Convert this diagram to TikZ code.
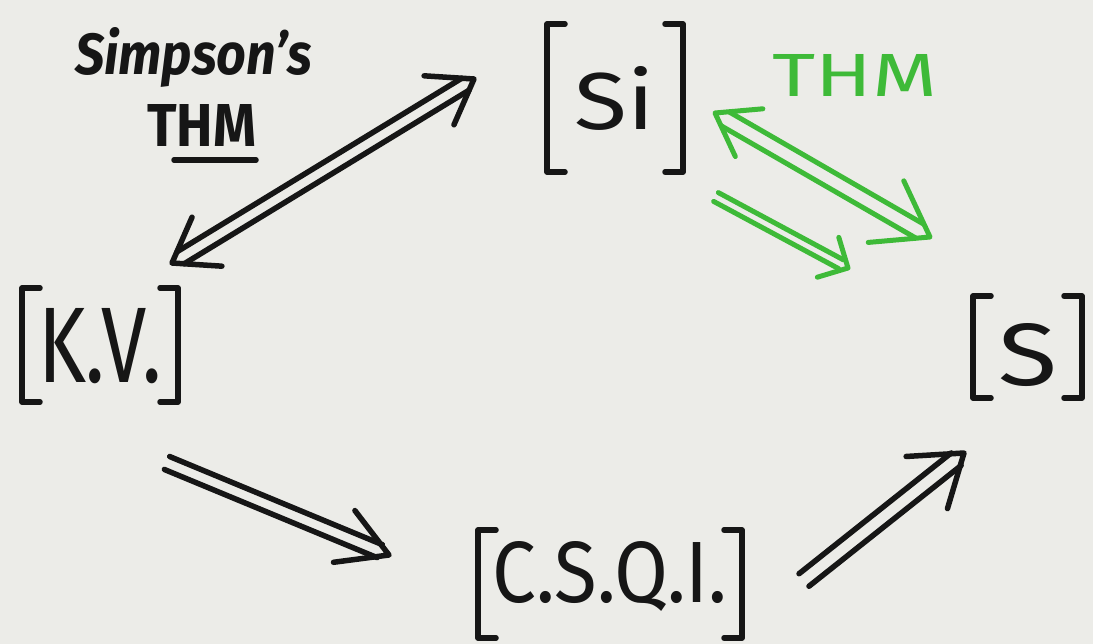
\documentclass[tikz,border=0pt]{standalone}
\usepackage{fontspec}
\setmainfont{Fira Sans}
\usepackage{graphicx}
\usetikzlibrary{calc}

\definecolor{paper}{RGB}{236,236,232}
\definecolor{ink}{RGB}{22,22,22}
\definecolor{marker}{RGB}{62,186,56}

% handwritten word squeezed to a given width and height (in pt)
\newcommand\hw[3]{\resizebox{#1pt}{#2pt}{#3}}

% square brackets drawn on the edges of a node
\newcommand\brackets[1]{%
  \draw[pen] ([xshift=18pt]#1.north west) -- (#1.north west) -- (#1.south west) -- ([xshift=18pt]#1.south west);
  \draw[pen] ([xshift=-18pt]#1.north east) -- (#1.north east) -- (#1.south east) -- ([xshift=-18pt]#1.south east);}

% the two strokes of an implication arrow:
% [style]{from}{to}{cut at from}{cut at to}{half gap}
\newcommand\rails[6][]{%
  \path ($(#2)!#4!(#3)$) coordinate (railA) ($(#3)!#5!(#2)$) coordinate (railB);
  \draw[pen,#1] ($(railA)!#6!90:(railB)$) -- ($(railB)!#6!-90:(railA)$);
  \draw[pen,#1] ($(railA)!#6!-90:(railB)$) -- ($(railB)!#6!90:(railA)$);}

% open arrow head: [style]{tip}{point behind}{arm length}{half angle}
\newcommand\head[5][]{%
  \draw[pen,#1] ($(#2)!#4!#5:(#3)$) -- (#2) -- ($(#2)!#4!-#5:(#3)$);}

\tikzset{
  pen/.style={draw=ink, line width=5.5pt, line cap=round, line join=round},
  greenpen/.style={draw=marker, line width=5pt},
  term/.style={rectangle, inner sep=0pt, outer sep=0pt, text=ink, text depth=0pt},
  note/.style={inner sep=0pt, outer sep=0pt, anchor=base west},
}

\begin{document}
\begin{tikzpicture}[x=1pt, y=-1pt]
\useasboundingbox (0,0) rectangle (1093,644);
\fill[paper] (0,0) rectangle (1093,644);

% the four bracketed classes
\node[term, minimum width=136pt, minimum height=148pt, text height=63pt] (si) at (615,98) {\hw{80}{63}{Si}};
\node[term, minimum width=156pt, minimum height=114pt, text height=74pt] (kv) at (100,345) {\hw{124}{74}{K.V.}};
\node[term, minimum width=109pt, minimum height=102pt, text height=62pt] (s) at (1027.5,347) {\raisebox{-7pt}{\hw{59}{62}{S}}};
\node[term, minimum width=264pt, minimum height=108pt, text height=61pt] (csqi) at (610,584) {\raisebox{12pt}{\hw{235}{61}{C.S.Q.I.}}};
\foreach \n in {si,kv,s,csqi} {\brackets{\n}}

% labels
\node[note, text=ink] (simpson) at (75,75) {\hw{237}{47}{\bfseries\itshape Simpson's}};
\node[note, text=ink] (thm) at (147,147) {\hw{109}{42}{\bfseries THM}};
\draw[pen] ([shift={(27pt,-13pt)}]thm.base west) -- ([shift={(0pt,-13pt)}]thm.base east);
\node[note, text=marker] (gthm) at (772,97) {\hw{165}{42}{THM}};

% arrow ends
\coordinate (e1a) at ($(kv.north east)+(-6,-25)$);
\coordinate (e1b) at ($(si.west)+(-73,-19)$);
\coordinate (e2a) at ($(kv.south east)+(-11,61)$);
\coordinate (e2b) at ($(csqi.west)+(-89,-29)$);
\coordinate (e3a) at ($(csqi.east)+(62,-4)$);
\coordinate (e3b) at ($(s.south west)+(-9,55)$);
\coordinate (g1a) at ($(si.east)+(32,15)$);
\coordinate (g1b) at ($(s.north west)+(-43,-59)$);
\coordinate (g2a) at ($(si.south east)+(33,25)$);
\coordinate (g2b) at ($(s.north west)+(-125,-28)$);

% Simpson's theorem: [K.V.] <=> [Si]
\rails{e1a}{e1b}{10pt}{10pt}{7pt}
\head{e1a}{e1b}{50pt}{35}
\head{e1b}{e1a}{50pt}{35}

% [K.V.] => [C.S.Q.I.]
\rails{e2a}{e2b}{0pt}{10pt}{7pt}
\head{e2b}{e2a}{56pt}{30}

% [C.S.Q.I.] => [S]
\rails{e3a}{e3b}{0pt}{10pt}{8pt}
\head{e3b}{e3a}{58pt}{35}

% green: [Si] <=> [S] and [Si] => [S]
\rails[greenpen]{g1a}{g1b}{12pt}{12pt}{8pt}
\head[greenpen]{g1a}{g1b}{48pt}{35}
\head[greenpen]{g1b}{g1a}{62pt}{35}
\rails[greenpen]{g2a}{g2b}{0pt}{8pt}{5pt}
\head[greenpen]{g2b}{g2a}{32pt}{45}
\end{tikzpicture}
\end{document}
